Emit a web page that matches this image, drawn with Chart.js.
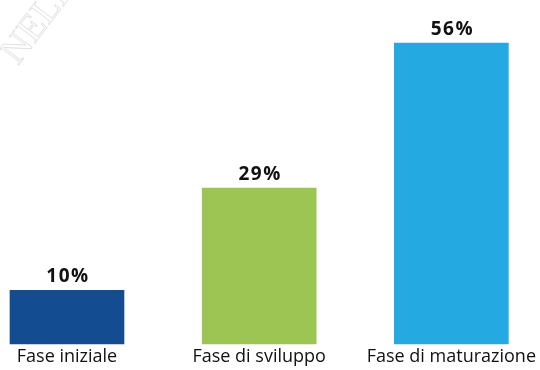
<!DOCTYPE html>
<html>
<head>
<meta charset="utf-8">
<script src="https://cdn.jsdelivr.net/npm/chart.js@4/dist/chart.umd.min.js"></script>
<style>
  html, body { margin: 0; padding: 0; background: #fff; }
  #wrap { width: 540px; height: 370px; }
</style>
</head>
<body>
<div id="wrap"><canvas id="fasiChart"></canvas></div>
<script>
const categorie = ['Fase iniziale', 'Fase di sviluppo', 'Fase di maturazione'];
const percentuali = [10, 29, 56];
const colori = ['#144C91', '#9DC553', '#24A9E1'];

// Etichette con la percentuale sopra ogni barra
const etichetteValori = {
    id: 'etichetteValori',
    afterDatasetsDraw(chart) {
        const ctx = chart.ctx;
        const meta = chart.getDatasetMeta(0);
        ctx.save();
        ctx.font = 'bold 19px "Open Sans"';
        ctx.letterSpacing = '1.5px';
        ctx.fillStyle = '#111';
        ctx.textAlign = 'center';
        ctx.textBaseline = 'alphabetic';
        meta.data.forEach((bar, i) => {
            ctx.fillText(percentuali[i] + '%', bar.x + 1, bar.y - 8);
        });
        ctx.restore();
    }
};

// Filigrana in alto a sinistra
const filigrana = {
    id: 'filigrana',
    beforeDraw(chart) {
        const ctx = chart.ctx;
        ctx.save();
        ctx.translate(18, 66);
        ctx.rotate(-53 * Math.PI / 180);
        ctx.font = '38px "Liberation Serif"';
        ctx.strokeStyle = '#e0e0e0';
        ctx.lineWidth = 0.8;
        ctx.strokeText('NELLE', 0, 0);
        ctx.restore();
    }
};

new Chart(document.getElementById('fasiChart'), {
    type: 'bar',
    data: {
        labels: categorie,
        datasets: [{
            data: percentuali,
            backgroundColor: colori,
            borderWidth: 0,
            barThickness: 114,
            clip: false
        }]
    },
    options: {
        responsive: true,
        maintainAspectRatio: false,
        animation: false,
        layout: { padding: { left: 67, right: 88.5, top: 0, bottom: 0 } },
        plugins: {
            legend: { display: false },
            tooltip: { enabled: false }
        },
        scales: {
            x: {
                offset: false,
                grid: { display: false, drawTicks: false },
                border: { display: false },
                ticks: {
                    color: '#111',
                    padding: 4,
                    maxRotation: 0,
                    autoSkip: false,
                    font: { family: '"Open Sans"', size: 18, lineHeight: 1.0 }
                }
            },
            y: {
                display: false,
                min: 0,
                max: 64
            }
        }
    },
    plugins: [filigrana, etichetteValori]
});
</script>
</body>
</html>
